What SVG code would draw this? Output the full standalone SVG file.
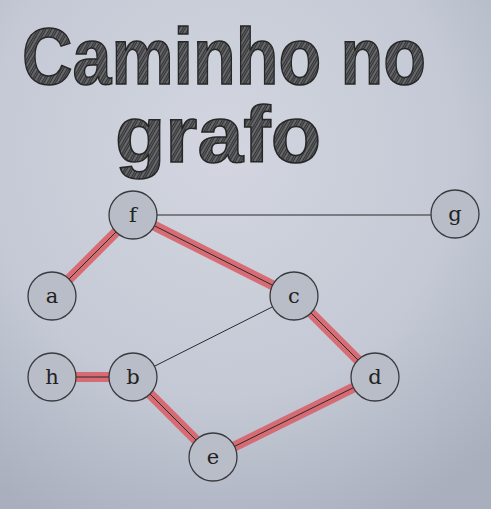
<svg xmlns="http://www.w3.org/2000/svg" width="491" height="509" viewBox="0 0 491 509">
<defs>
<radialGradient id="bg" cx="0.45" cy="0.3" r="0.8">
<stop offset="0" stop-color="#d3d6e0"/>
<stop offset="0.6" stop-color="#c4c9d5"/>
<stop offset="1" stop-color="#a9afbd"/>
</radialGradient>
<pattern id="hatch" width="5" height="5" patternUnits="userSpaceOnUse" patternTransform="rotate(-60)">
<rect width="5" height="5" fill="#353537"/>
<line x1="0" y1="1" x2="5" y2="1" stroke="#a4a6aa" stroke-width="0.9"/>
<line x1="0" y1="3.5" x2="5" y2="3.5" stroke="#6c6e72" stroke-width="0.7"/>
</pattern>
<style>
.title{font-family:"Liberation Sans","Arial",sans-serif;font-weight:bold;font-size:80px;fill:url(#hatch);stroke:#262626;stroke-width:1.5}
.node circle{fill:#b9bdc7;stroke:#3a3a3e;stroke-width:1.3}
.node text{font-family:"DejaVu Serif","Liberation Serif",serif;font-size:21px;fill:#222;text-anchor:middle}
.hl{stroke:#d9626a;stroke-width:10;stroke-linecap:butt;opacity:0.9}
.ln{stroke:#2a2a2a;stroke-width:1}
</style>
</defs>
<rect width="491" height="509" fill="url(#bg)"/>
<g id="title">
<text class="title" x="22" y="84" textLength="404" lengthAdjust="spacingAndGlyphs">Caminho no</text>
<text class="title" x="115" y="162" textLength="206" lengthAdjust="spacingAndGlyphs">grafo</text>
</g>
<g id="edges">
<line class="hl" x1="52" y1="296" x2="133" y2="215"/>
<line class="hl" x1="133" y1="215" x2="294" y2="296"/>
<line class="hl" x1="294" y1="296" x2="375" y2="377"/>
<line class="hl" x1="375" y1="377" x2="213" y2="457"/>
<line class="hl" x1="213" y1="457" x2="133" y2="377"/>
<line class="hl" x1="133" y1="377" x2="52" y2="377"/>
<line class="ln" x1="52" y1="296" x2="133" y2="215"/>
<line class="ln" x1="133" y1="215" x2="294" y2="296"/>
<line class="ln" x1="294" y1="296" x2="375" y2="377"/>
<line class="ln" x1="375" y1="377" x2="213" y2="457"/>
<line class="ln" x1="213" y1="457" x2="133" y2="377"/>
<line class="ln" x1="133" y1="377" x2="52" y2="377"/>
<line class="ln" x1="133" y1="215" x2="455" y2="215"/>
<line class="ln" x1="294" y1="296" x2="133" y2="377"/>
</g>
<g id="node-f" class="node"><circle cx="133" cy="215" r="24"/><text x="133" y="222">f</text></g>
<g id="node-g" class="node"><circle cx="455" cy="214" r="24"/><text x="455" y="221">g</text></g>
<g id="node-a" class="node"><circle cx="52" cy="296" r="24"/><text x="52" y="303">a</text></g>
<g id="node-c" class="node"><circle cx="294" cy="296" r="24"/><text x="294" y="303">c</text></g>
<g id="node-h" class="node"><circle cx="52" cy="377" r="24"/><text x="52" y="384">h</text></g>
<g id="node-b" class="node"><circle cx="133" cy="377" r="24"/><text x="133" y="384">b</text></g>
<g id="node-d" class="node"><circle cx="375" cy="377" r="24"/><text x="375" y="384">d</text></g>
<g id="node-e" class="node"><circle cx="213" cy="457" r="24"/><text x="213" y="464">e</text></g>
</svg>
